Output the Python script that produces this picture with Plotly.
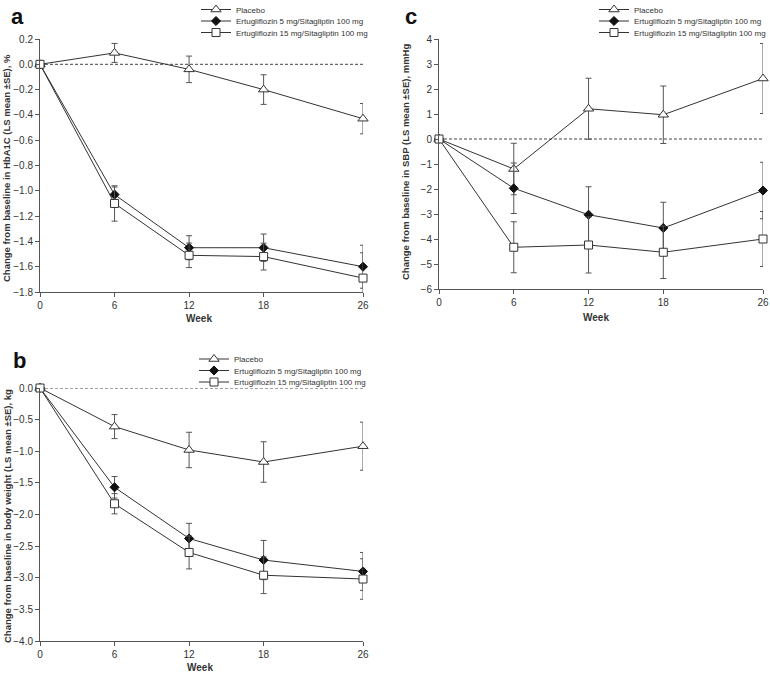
import plotly.graph_objects as go

W, H = 770, 676

weeks = [0, 6, 12, 18, 26]
series_names = ["Placebo",
                "Ertugliflozin 5 mg/Sitagliptin 100 mg",
                "Ertugliflozin 15 mg/Sitagliptin 100 mg"]

# Panel a: HbA1C
a_placebo = [0, 0.09, -0.04, -0.20, -0.43]
a_placebo_se = [0, 0.075, 0.105, 0.117, 0.12]
a_e5 = [0, -1.03, -1.45, -1.45, -1.60]
a_e5_se = [0, 0.06, 0.095, 0.108, 0.17]
a_e15 = [0, -1.10, -1.51, -1.52, -1.69]
a_e15_se = [0, 0.14, 0.097, 0.106, 0.20]

# Panel b: body weight
b_placebo = [0, -0.61, -0.98, -1.17, -0.92]
b_placebo_se = [0, 0.19, 0.28, 0.32, 0.38]
b_e5 = [0, -1.57, -2.38, -2.72, -2.90]
b_e5_se = [0, 0.17, 0.24, 0.31, 0.30]
b_e15 = [0, -1.83, -2.60, -2.96, -3.02]
b_e15_se = [0, 0.16, 0.26, 0.29, 0.32]

# Panel c: SBP
c_placebo = [0, -1.20, 1.21, 0.97, 2.42]
c_placebo_se = [0, 1.03, 1.22, 1.15, 1.40]
c_e5 = [0, -1.97, -3.03, -3.56, -2.06]
c_e5_se = [0, 1.01, 1.12, 1.03, 1.13]
c_e15 = [0, -4.33, -4.24, -4.53, -4.00]
c_e15_se = [0, 1.02, 1.12, 1.05, 1.10]

y_titles = ["Change from baseline in HbA1C (LS mean \u00b1SE), %",
            "Change from baseline in body weight (LS mean \u00b1SE), kg",
            "Change from baseline in SBP (LS mean \u00b1SE), mmHg"]
x_title = "Week"
panel_letters = ["a", "b", "c"]


def px(x):
    return x / W


def py(y):
    return 1 - y / H


FONT = "Liberation Sans, Arial, Helvetica, sans-serif"
LINE = "#333333"
ERR = "#555555"

marker_styles = [
    dict(symbol="triangle-up", size=9, color="white", line=dict(color=LINE, width=1)),
    dict(symbol="diamond", size=7, color="#111111", line=dict(color="#111111", width=1)),
    dict(symbol="square", size=8, color="white", line=dict(color=LINE, width=1)),
]

fig = go.Figure()

panels = [
    ("x", "y", [(a_placebo, a_placebo_se), (a_e5, a_e5_se), (a_e15, a_e15_se)],
     (40, 363), (39, 292), (-1.8, 0.2), 0.2, ".1f", (196, [9.5, 21, 32.5])),
    ("x2", "y2", [(b_placebo, b_placebo_se), (b_e5, b_e5_se), (b_e15, b_e15_se)],
     (40, 363), (388, 641), (-4.0, 0.0), 0.5, ".1f", (194, [359, 370.5, 382])),
    ("x3", "y3", [(c_placebo, c_placebo_se), (c_e5, c_e5_se), (c_e15, c_e15_se)],
     (439, 763), (39, 289), (-6, 4), 1, "d", (594, [9.5, 21, 32.5])),
]

legend_count = 0
layout_extra = {}
shapes = []
for pi, (xa, ya, data, xr, yr, yrange, dtick, fmt, leg) in enumerate(panels):
    for si, (vals, se) in enumerate(data):
        legend_count += 1
        lname = "legend" if legend_count == 1 else "legend%d" % legend_count
        fig.add_trace(go.Scatter(
            x=weeks, y=vals, mode="lines+markers",
            name=series_names[si],
            line=dict(color=LINE, width=1),
            marker=marker_styles[si],
            error_y=dict(type="data", array=se, visible=True, color=ERR,
                         thickness=1, width=3),
            xaxis=xa, yaxis=ya, cliponaxis=False, legend=lname,
        ))
        layout_extra[lname] = dict(
            x=px(leg[0]), y=py(leg[1][si]), xanchor="left", yanchor="middle",
            bgcolor="rgba(0,0,0,0)", borderwidth=0,
            font=dict(family=FONT, size=8, color="#333333"),
            itemwidth=30,
        )
    xkey = "xaxis" if xa == "x" else "xaxis" + xa[1:]
    ykey = "yaxis" if ya == "y" else "yaxis" + ya[1:]
    layout_extra[xkey] = dict(
        domain=[px(xr[0]), px(xr[1])], range=[0, 26], anchor=ya,
        tickvals=weeks, showline=True, linecolor=ERR, linewidth=1,
        ticks="outside", ticklen=4, tickcolor=ERR, showgrid=False, zeroline=False,
        tickfont=dict(family=FONT, size=10, color="#333333"),
    )
    layout_extra[ykey] = dict(
        domain=[py(yr[1]), py(yr[0])], range=list(yrange), anchor=xa,
        dtick=dtick, tick0=0, tickformat=fmt, showline=True, linecolor=ERR, linewidth=1,
        ticks="outside", ticklen=4, tickcolor=ERR, showgrid=False, zeroline=False,
        tickfont=dict(family=FONT, size=10, color="#333333"),
    )
    shapes.append(dict(type="line", xref=xa, yref=ya, x0=0, x1=26, y0=0, y1=0,
                       line=dict(color="#444444", width=1, dash="3px,2px"), layer="below"))

annotations = []
for letter, (lx, ly) in zip(panel_letters, [(17, 16), (19, 360), (411, 16)]):
    annotations.append(dict(text="<b>%s</b>" % letter, x=px(lx), y=py(ly), xref="paper", yref="paper",
                            showarrow=False, xanchor="center", yanchor="middle",
                            font=dict(family=FONT, size=22, color="#111111")))
for t, (tx, ty) in zip(y_titles, [(7, 168), (7, 516), (405, 162)]):
    annotations.append(dict(text="<b>%s</b>" % t, x=px(tx), y=py(ty), xref="paper", yref="paper",
                            showarrow=False, xanchor="center", yanchor="middle", textangle=-90,
                            font=dict(family=FONT, size=9.5, color="#333333")))
for (tx, ty) in [(199, 318), (200, 667), (596, 317)]:
    annotations.append(dict(text="<b>%s</b>" % x_title, x=px(tx), y=py(ty), xref="paper", yref="paper",
                            showarrow=False, xanchor="center", yanchor="middle",
                            font=dict(family=FONT, size=10, color="#333333")))

fig.update_layout(
    width=W, height=H, margin=dict(l=0, r=0, t=0, b=0, autoexpand=False),
    paper_bgcolor="white", plot_bgcolor="white",
    showlegend=True, shapes=shapes, annotations=annotations,
    font=dict(family=FONT, size=10, color="#333333"),
    **layout_extra,
)

fig.write_html("out.html", config={"displayModeBar": False},
               post_script="document.body.style.margin='0';document.body.style.overflow='hidden';")
